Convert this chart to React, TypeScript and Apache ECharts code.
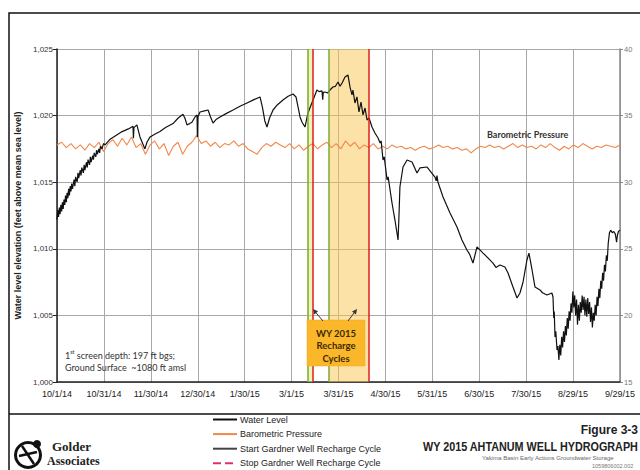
import React, { useEffect, useRef } from "react";
import * as echarts from "echarts";

// x = days since 10/1/14
const tickLabels = ["10/1/14", "10/31/14", "11/30/14", "12/30/14", "1/30/15", "3/1/15", "3/31/15", "4/30/15", "5/31/15", "6/30/15", "7/30/15", "8/29/15", "9/29/15"];
const X_MAX = 363;

const waterLevel: [number, number][] = [
  [0, 1012.2], [0.5, 1012.9], [1, 1012.4], [1.5, 1013.1], [2, 1012.6], [2.5, 1013.3], [3, 1012.8], [3.5, 1013.5], [4, 1013.0], [4.5, 1013.7],
  [5, 1013.3], [5.5, 1014.0], [6, 1013.5], [6.5, 1014.2], [7, 1013.8], [7.5, 1014.5], [8, 1014.0], [8.5, 1014.7], [9, 1014.3], [9.5, 1014.9],
  [10, 1014.5], [11, 1015.2], [11.5, 1014.7], [12, 1015.4], [13, 1015.0], [13.5, 1015.7], [14, 1015.3], [15, 1015.9], [15.5, 1015.5], [16, 1016.1],
  [17, 1015.7], [17.5, 1016.3], [18, 1015.9], [19, 1016.5], [19.5, 1016.1], [20, 1016.7], [21, 1016.3], [21.5, 1016.9], [22, 1016.5], [23, 1017.0],
  [23.5, 1016.7], [24, 1017.2], [25, 1016.9], [25.5, 1017.4], [26, 1017.1], [27, 1017.5], [27.5, 1017.2], [28, 1017.7], [29, 1017.5], [30, 1017.9],
  [31, 1017.8], [34, 1018.2], [38, 1018.5], [42, 1018.8], [46, 1019.0], [49, 1019.2], [49.3, 1018.3], [49.6, 1019.1], [51.5, 1019.3], [53.5, 1018.4],
  [56.7, 1017.5], [58, 1018.0], [60, 1018.4], [63, 1018.6], [66.4, 1018.8], [70, 1019.1], [74.8, 1019.4], [78, 1019.8], [81.2, 1020.1], [82.5, 1019.8],
  [83.8, 1019.3], [85.5, 1019.4], [87, 1019.5], [89, 1019.9], [90.3, 1020.05], [90.5, 1018.4], [90.8, 1019.9], [92.2, 1020.27], [95, 1020.35], [97.4, 1020.42],
  [99, 1019.9], [100.6, 1019.44], [102.5, 1019.7], [105.1, 1019.9], [109, 1020.15], [113.5, 1020.42], [118, 1020.7], [122.5, 1020.95], [127, 1021.2], [130.9, 1021.4],
  [132.5, 1020.6], [134, 1019.6], [135.4, 1019.14], [137, 1019.8], [139.3, 1020.42], [142, 1020.8], [145.7, 1021.17], [149, 1021.45], [152.2, 1021.62], [154.1, 1021.4],
  [155.5, 1020.6], [156.7, 1019.9], [158, 1019.5], [159.9, 1019.14], [161.8, 1020.2], [163.5, 1020.7], [165.1, 1021.17], [167.6, 1021.92], [169, 1021.8], [170.9, 1021.85],
  [171.3, 1021.2], [171.7, 1021.75], [172.8, 1021.77], [174.5, 1021.7], [176, 1021.92], [177.9, 1022.15], [179.5, 1022.2], [181.2, 1022.52], [182.5, 1022.2], [183.8, 1022.45],
  [185.7, 1022.9], [187.6, 1023.05], [188.9, 1022.15], [190.2, 1021.55], [190.8, 1021.92], [192.1, 1020.95], [193.4, 1021.4], [194.7, 1020.27], [196, 1021.02], [197.3, 1020.05],
  [198.6, 1020.57], [199.9, 1019.67], [201.2, 1019.82], [203.1, 1019.14], [205, 1018.69], [207, 1018.32], [208.3, 1017.94], [209, 1018.1], [210.2, 1016.67], [211, 1016.9],
  [212.8, 1015.17], [213.5, 1015.4], [216, 1013.44], [217.9, 1012.16], [219.9, 1010.66], [220.5, 1012.5], [221.1, 1014.64], [223.1, 1016.14], [225.7, 1016.67], [228.9, 1016.52],
  [232.1, 1015.69], [234, 1016.07], [238.6, 1016.14], [243.7, 1015.39], [244.5, 1015.1], [245, 1015.5], [245.6, 1015.02], [248.9, 1013.89], [253.4, 1012.69], [257.9, 1011.64],
  [261.1, 1010.66], [264.3, 1009.91], [266, 1009.6], [268.2, 1008.93], [270.8, 1010.14], [274.7, 1009.68], [278, 1009.3], [281.1, 1008.93], [283, 1008.6], [285.6, 1008.78],
  [288.8, 1008.63], [290.8, 1008.18], [294, 1007.13], [296.6, 1006.31], [298.5, 1006.68], [300.5, 1007.51], [303, 1009.16], [304.3, 1009.68], [306.3, 1008.41], [308.2, 1007.13],
  [311.4, 1006.91], [313, 1006.7], [315.9, 1006.53], [319.1, 1006.68], [319.8, 1006.38], [320.3, 1004.8], [320.6, 1005.3], [321.1, 1003.38], [321.6, 1003.8], [322.4, 1002.4],
  [323, 1002.7], [323.6, 1001.65], [324.2, 1002.8], [324.8, 1002.0], [325.4, 1003.4], [326, 1002.6], [326.6, 1003.8], [327.2, 1003.0], [327.8, 1004.2], [328.4, 1003.5],
  [329, 1004.8], [329.6, 1004.0], [330.2, 1005.3], [330.8, 1004.6], [331.4, 1005.9], [332, 1005.2], [332.6, 1006.8], [333.2, 1005.6], [333.8, 1006.5], [334.4, 1005.0],
  [335, 1006.2], [335.6, 1004.3], [336.2, 1005.8], [336.8, 1004.6], [337.4, 1006.0], [338, 1005.2], [338.6, 1006.5], [339.2, 1005.4], [339.8, 1006.4], [340.4, 1005.0],
  [341, 1006.2], [341.6, 1004.9], [342.2, 1006.3], [342.8, 1005.1], [343.4, 1006.0], [344, 1004.5], [344.6, 1005.6], [345.2, 1004.1], [345.8, 1005.2], [346.4, 1004.6],
  [347, 1005.8], [347.6, 1005.0], [348.2, 1006.4], [348.8, 1005.7], [349.4, 1007.0], [350, 1006.3], [350.6, 1007.6], [351.2, 1007.0], [351.8, 1008.2], [352.4, 1007.6],
  [353, 1008.8], [353.6, 1008.3], [354.2, 1009.5], [354.8, 1009.1], [355.4, 1010.4], [356.2, 1011.2], [357, 1011.4], [358, 1011.2], [359, 1011.3], [360, 1011.1],
  [360.8, 1010.5], [361.3, 1011.0], [362, 1011.3], [363, 1011.4],
];

const barometric: [number, number][] = [
  [0, 32.8], [3, 33.0], [6, 32.6], [9, 32.9], [12, 32.5], [15, 32.8], [18, 32.4], [21, 32.9], [24, 32.6], [27, 33.0],
  [30, 32.3], [33, 32.9], [36, 33.2], [39, 32.7], [42, 33.3], [45, 32.8], [48, 33.4], [51, 32.6], [54, 32.9], [57, 32.1],
  [60, 32.8], [63, 33.1], [66, 32.5], [69, 32.9], [72, 32.0], [75, 32.7], [78, 33.0], [81, 32.1], [84, 32.7], [87, 33.0],
  [90, 33.5], [93, 32.9], [96, 33.1], [99, 32.7], [102, 33.0], [105, 32.6], [108, 32.9], [111, 32.8], [114, 33.1], [117, 32.7],
  [120, 32.9], [123, 32.5], [126, 32.3], [129, 32.1], [132, 32.6], [135, 32.9], [138, 32.7], [141, 33.0], [144, 32.8], [147, 32.6],
  [150, 32.9], [153, 32.5], [156, 32.8], [159, 32.4], [162, 32.7], [165, 32.9], [168, 32.5], [171, 32.8], [174, 33.0], [177, 32.6],
  [180, 32.9], [183, 32.5], [186, 33.1], [189, 32.7], [192, 33.0], [195, 32.5], [198, 32.8], [201, 32.6], [204, 32.9], [207, 32.5],
  [210, 32.7], [213, 32.5], [216, 32.8], [219, 32.6], [222, 32.7], [225, 32.5], [228, 32.6], [231, 32.4], [234, 32.6], [237, 32.7],
  [240, 32.5], [243, 32.6], [246, 32.8], [249, 32.6], [252, 32.7], [255, 32.5], [258, 32.6], [261, 32.4], [264, 32.5], [267, 32.2],
  [270, 32.5], [273, 32.7], [276, 32.6], [279, 32.8], [282, 32.6], [285, 32.7], [288, 32.5], [291, 32.7], [294, 32.9], [297, 32.6],
  [300, 32.8], [303, 32.6], [306, 32.7], [309, 32.5], [312, 32.8], [315, 32.6], [318, 32.9], [321, 32.6], [324, 32.4], [327, 32.7],
  [330, 32.5], [333, 32.8], [336, 32.6], [339, 32.9], [342, 32.7], [345, 32.5], [348, 32.7], [351, 32.6], [354, 32.8], [357, 32.7],
  [360, 32.6], [363, 32.8],
];

const rechargeStart = [161.4, 175.4];
const rechargeStop = [165.0, 201.0];
const bandColors = ["rgba(222,235,120,0.5)", "rgba(251,198,80,0.5)"];

const SANS = "'Liberation Sans', Arial, sans-serif";
const CAL = "Lato, 'Open Sans', sans-serif";
const SERIF = "'Liberation Serif', 'DejaVu Serif', serif";

export default function App() {
  const ref = useRef<HTMLDivElement>(null);
  useEffect(() => {
    if (!ref.current) return;
    const chart = echarts.init(ref.current, undefined, { renderer: "svg" });
    const option: any = {
      animation: false,
      backgroundColor: "#ffffff",
      grid: { left: 57, right: 20, top: 49, bottom: 88, containLabel: false },
      legend: {
        orient: "vertical",
        left: 212,
        top: 415,
        padding: 0,
        itemWidth: 24,
        itemHeight: 11,
        itemGap: 5.6,
        selectedMode: false,
        itemStyle: { opacity: 0, borderWidth: 0 },
        textStyle: { fontFamily: SANS, fontSize: 9, color: "#222", padding: [0, 0, 0, -2] },
        data: ["Water Level", "Barometric Pressure", "Start Gardner Well Recharge Cycle", "Stop Gardner Well Recharge Cycle"],
      },
      xAxis: {
        type: "value",
        min: 0,
        max: X_MAX,
        interval: X_MAX / 12,
        axisLine: { lineStyle: { color: "#222", width: 1.5 } },
        axisTick: { show: false },
        splitLine: { show: true, lineStyle: { color: "#a8a8a8", width: 1 } },
        axisLabel: {
          fontFamily: SANS,
          fontSize: 9,
          color: "#222",
          margin: 7,
          showMinLabel: true,
          showMaxLabel: true,
          formatter: (v: number) => tickLabels[Math.round(v / (X_MAX / 12))] ?? "",
        },
      },
      yAxis: [
        {
          type: "value",
          min: 1000,
          max: 1025,
          interval: 5,
          position: "left",
          name: "Water level elevation (feet above mean sea level)",
          nameLocation: "middle",
          nameGap: 33,
          nameTextStyle: { fontFamily: SANS, fontSize: 9, fontWeight: "bold", color: "#222" },
          axisLine: { show: true, lineStyle: { color: "#222", width: 1.5 } },
          axisTick: { show: true, length: 4, lineStyle: { color: "#222" } },
          axisLabel: { fontFamily: SANS, fontSize: 8, color: "#333", margin: 4, formatter: (v: number) => v.toLocaleString("en-US") },
          splitLine: { show: true, lineStyle: { color: "#a8a8a8", width: 1 } },
        },
        {
          type: "value",
          min: 15,
          max: 40,
          interval: 5,
          position: "right",
          axisLine: { show: true, lineStyle: { color: "#8a8a8a", width: 1.5 } },
          axisTick: { show: true, length: 3, lineStyle: { color: "#8a8a8a" } },
          axisLabel: { fontFamily: SANS, fontSize: 7.5, color: "#777", margin: 4 },
          splitLine: { show: false },
        },
      ],
      series: [
        {
          name: "Start Gardner Well Recharge Cycle",
          type: "line",
          data: [],
          symbol: "none",
          z: 1,
          lineStyle: { color: "#444", width: 1 },
          itemStyle: { color: "#444" },
          markArea: {
            silent: true,
            data: rechargeStart.map((s, i) => [
              { xAxis: s, itemStyle: { color: bandColors[i] } },
              { xAxis: rechargeStop[i] },
            ]),
          },
          markLine: {
            silent: true,
            symbol: ["none", "none"],
            label: { show: false },
            lineStyle: { color: "#7fa830", width: 1.5, type: "solid" },
            data: rechargeStart.map((d) => ({ xAxis: d })),
          },
        },
        {
          name: "Stop Gardner Well Recharge Cycle",
          type: "line",
          data: [],
          symbol: "none",
          z: 2,
          lineStyle: { color: "#e0306a", width: 1.2, type: "dashed" },
          itemStyle: { color: "#e0306a" },
          markLine: {
            silent: true,
            symbol: ["none", "none"],
            label: { show: false },
            lineStyle: { color: "#e21d1d", width: 1.5, type: "solid" },
            data: rechargeStop.map((d) => ({ xAxis: d })),
          },
        },
        {
          name: "Barometric Pressure",
          type: "line",
          yAxisIndex: 1,
          data: barometric,
          symbol: "none",
          z: 3,
          lineStyle: { color: "#f0884a", width: 1.1 },
          itemStyle: { color: "#f0884a" },
        },
        {
          name: "Water Level",
          type: "line",
          yAxisIndex: 0,
          data: waterLevel,
          symbol: "none",
          z: 4,
          lineStyle: { color: "#111", width: 1.2 },
          itemStyle: { color: "#111" },
        },
      ],
      graphic: [
        // frame
        { type: "rect", z: 100, shape: { x: 9, y: 13, width: 700, height: 520 }, style: { fill: "none", stroke: "#111", lineWidth: 1.5 }, silent: true },
        { type: "line", z: 100, shape: { x1: 9, y1: 414, x2: 640, y2: 414 }, style: { stroke: "#111", lineWidth: 1.5 }, silent: true },
        // in-plot labels
        { type: "text", z: 100, x: 487, y: 130, style: { text: "Barometric Pressure", fontFamily: CAL, fontSize: 9, fontWeight: "bold", fill: "#333" } },
        {
          type: "text", z: 100, x: 65, y: 349,
          style: {
            text: "1{sup|st} screen depth: 197 ft bgs;\nGround Surface  ~1080 ft amsl",
            fontFamily: CAL, fontSize: 9, fill: "#333", lineHeight: 12,
            rich: { sup: { fontFamily: CAL, fontSize: 5.5, fill: "#333", verticalAlign: "top", lineHeight: 12 } },
          },
        },
        // annotation box
        { type: "rect", z: 100, shape: { x: 307, y: 320, width: 58, height: 46 }, style: { fill: "#fbb72a", stroke: "#f0a81c", lineWidth: 0.5 } },
        {
          type: "text", z: 101, x: 336, y: 327,
          style: { text: "WY 2015\nRecharge\nCycles", fontFamily: CAL, fontSize: 9.5, fontWeight: "bold", fill: "#3a2a00", align: "center", lineHeight: 12.5 },
        },
        { type: "line", z: 100, shape: { x1: 323, y1: 321, x2: 314.5, y2: 311 }, style: { stroke: "#333", lineWidth: 1 } },
        { type: "polygon", z: 100, shape: { points: [[313, 309], [318.1, 311.3], [314.3, 314.5]] }, style: { fill: "#333" } },
        { type: "line", z: 100, shape: { x1: 348, y1: 321, x2: 355.8, y2: 310.6 }, style: { stroke: "#333", lineWidth: 1 } },
        { type: "polygon", z: 100, shape: { points: [[357, 309], [356, 314.5], [352, 311.5]] }, style: { fill: "#333" } },
        // footer
        { type: "text", x: 638, y: 424, style: { text: "Figure 3-3", fontFamily: SANS, fontSize: 12, fontWeight: "bold", fill: "#222", align: "right" } },
        { type: "text", x: 423, y: 440, scaleX: 0.8, style: { text: "WY 2015 AHTANUM WELL HYDROGRAPH", fontFamily: SANS, fontSize: 13.5, fontWeight: "bold", fill: "#222" } },
        { type: "text", x: 482, y: 455, style: { text: "Yakima Basin Early Actions Groundwater Storage", fontFamily: SANS, fontSize: 6, fill: "#666" } },
        { type: "text", x: 592, y: 463, style: { text: "1059806002.002", fontFamily: SANS, fontSize: 5.5, fill: "#777" } },
        // logo
        { type: "ring", shape: { cx: 28, cy: 455, r: 14, r0: 11 }, style: { fill: "#111" } },
        { type: "line", shape: { x1: 22, y1: 446, x2: 34, y2: 464 }, style: { stroke: "#111", lineWidth: 2.5 } },
        { type: "line", shape: { x1: 19, y1: 456, x2: 37, y2: 452 }, style: { stroke: "#111", lineWidth: 2.5 } },
        { type: "circle", shape: { cx: 37, cy: 444, r: 4 }, style: { fill: "#111" } },
        { type: "text", x: 52, y: 440, style: { text: "Golder", fontFamily: SERIF, fontSize: 13, fontWeight: "bold", fill: "#222" } },
        { type: "text", x: 47, y: 455, style: { text: "Associates", fontFamily: SERIF, fontSize: 12, fontWeight: "bold", fill: "#222" } },
      ],
    };
    chart.setOption(option);
    return () => chart.dispose();
  }, []);
  return <div ref={ref} style={{ position: "absolute", left: 0, top: 0, width: 640, height: 470 }} />;
}
